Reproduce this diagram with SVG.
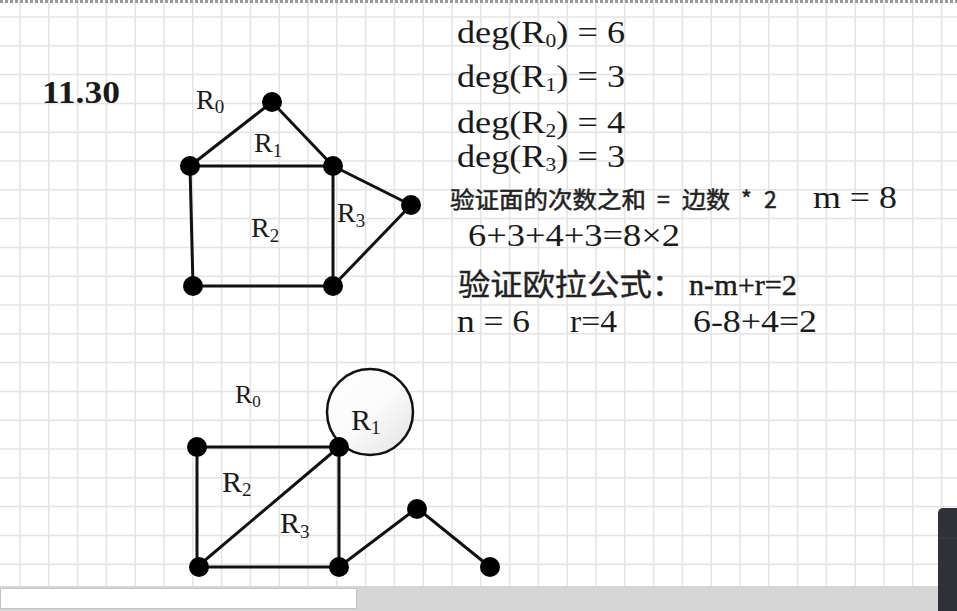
<svg xmlns="http://www.w3.org/2000/svg" width="957" height="611" viewBox="0 0 957 611">
<style>
.grid line{stroke:#e4e4e4;stroke-width:1.5}
.edge{stroke:#111;stroke-width:3;fill:none;stroke-linecap:round}
.node{fill:#000}
.t{font-family:"Liberation Serif","Noto Sans CJK SC",serif;fill:#1a1a1a}
.c{font-family:"Noto Sans CJK SC","Liberation Sans",sans-serif;fill:#222}
</style>
<defs>
<linearGradient id="lg" x1="0" y1="0" x2="1" y2="1">
<stop offset="0" stop-color="#ffffff"/>
<stop offset="0.5" stop-color="#fbfbfb"/>
<stop offset="1" stop-color="#e2e2e2"/>
</linearGradient>
</defs>
<rect width="957" height="611" fill="#ffffff"/>
<g class="grid">
<line x1="20" y1="0" x2="20" y2="611"/><line x1="48.8" y1="0" x2="48.8" y2="611"/><line x1="77.6" y1="0" x2="77.6" y2="611"/><line x1="106.4" y1="0" x2="106.4" y2="611"/><line x1="135.2" y1="0" x2="135.2" y2="611"/><line x1="164" y1="0" x2="164" y2="611"/><line x1="192.8" y1="0" x2="192.8" y2="611"/><line x1="221.6" y1="0" x2="221.6" y2="611"/><line x1="250.4" y1="0" x2="250.4" y2="611"/><line x1="279.2" y1="0" x2="279.2" y2="611"/><line x1="308" y1="0" x2="308" y2="611"/><line x1="336.8" y1="0" x2="336.8" y2="611"/><line x1="365.6" y1="0" x2="365.6" y2="611"/><line x1="394.4" y1="0" x2="394.4" y2="611"/><line x1="423.2" y1="0" x2="423.2" y2="611"/><line x1="452" y1="0" x2="452" y2="611"/><line x1="480.8" y1="0" x2="480.8" y2="611"/><line x1="509.6" y1="0" x2="509.6" y2="611"/><line x1="538.4" y1="0" x2="538.4" y2="611"/><line x1="567.2" y1="0" x2="567.2" y2="611"/><line x1="596" y1="0" x2="596" y2="611"/><line x1="624.8" y1="0" x2="624.8" y2="611"/><line x1="653.6" y1="0" x2="653.6" y2="611"/><line x1="682.4" y1="0" x2="682.4" y2="611"/><line x1="711.2" y1="0" x2="711.2" y2="611"/><line x1="740" y1="0" x2="740" y2="611"/><line x1="768.8" y1="0" x2="768.8" y2="611"/><line x1="797.6" y1="0" x2="797.6" y2="611"/><line x1="826.4" y1="0" x2="826.4" y2="611"/><line x1="855.2" y1="0" x2="855.2" y2="611"/><line x1="884" y1="0" x2="884" y2="611"/><line x1="912.8" y1="0" x2="912.8" y2="611"/><line x1="941.6" y1="0" x2="941.6" y2="611"/>
<line x1="0" y1="17" x2="957" y2="17"/><line x1="0" y1="45.8" x2="957" y2="45.8"/><line x1="0" y1="74.6" x2="957" y2="74.6"/><line x1="0" y1="103.4" x2="957" y2="103.4"/><line x1="0" y1="132.2" x2="957" y2="132.2"/><line x1="0" y1="161" x2="957" y2="161"/><line x1="0" y1="189.8" x2="957" y2="189.8"/><line x1="0" y1="218.6" x2="957" y2="218.6"/><line x1="0" y1="247.4" x2="957" y2="247.4"/><line x1="0" y1="276.2" x2="957" y2="276.2"/><line x1="0" y1="305" x2="957" y2="305"/><line x1="0" y1="333.8" x2="957" y2="333.8"/><line x1="0" y1="362.6" x2="957" y2="362.6"/><line x1="0" y1="391.4" x2="957" y2="391.4"/><line x1="0" y1="420.2" x2="957" y2="420.2"/><line x1="0" y1="449" x2="957" y2="449"/><line x1="0" y1="477.8" x2="957" y2="477.8"/><line x1="0" y1="506.6" x2="957" y2="506.6"/><line x1="0" y1="535.4" x2="957" y2="535.4"/><line x1="0" y1="564.2" x2="957" y2="564.2"/>
</g>
<line x1="0" y1="1.5" x2="957" y2="1.5" stroke="#9a9a9a" stroke-width="3" stroke-dasharray="3 2"/>

<text class="t" x="42" y="103" font-size="32" font-weight="bold" textLength="78" lengthAdjust="spacingAndGlyphs">11.30</text>

<!-- Graph 1 -->
<g id="graph1-connectors">
<line class="edge" x1="272" y1="102" x2="190" y2="166"/>
<line class="edge" x1="272" y1="102" x2="333" y2="166"/>
<line class="edge" x1="190" y1="166" x2="333" y2="166"/>
<line class="edge" x1="190" y1="166" x2="193" y2="286"/>
<line class="edge" x1="193" y1="286" x2="333" y2="286"/>
<line class="edge" x1="333" y1="166" x2="333" y2="286"/>
<line class="edge" x1="333" y1="166" x2="411" y2="205"/>
<line class="edge" x1="411" y1="205" x2="333" y2="286"/>
</g>
<g id="g1-a"><circle class="node" cx="272" cy="102" r="10"/></g>
<g id="g1-b"><circle class="node" cx="190" cy="166" r="10"/></g>
<g id="g1-c"><circle class="node" cx="333" cy="166" r="10"/></g>
<g id="g1-d"><circle class="node" cx="411" cy="205" r="10"/></g>
<g id="g1-e"><circle class="node" cx="193" cy="286" r="10"/></g>
<g id="g1-f"><circle class="node" cx="333" cy="286" r="10"/></g>
<g id="g1-labels">
<text class="t" x="196" y="109" font-size="28">R<tspan font-size="19" dy="4">0</tspan></text>
<text class="t" x="254" y="152" font-size="28">R<tspan font-size="19" dy="5">1</tspan></text>
<text class="t" x="251" y="237" font-size="28">R<tspan font-size="19" dy="5">2</tspan></text>
<text class="t" x="337" y="222" font-size="28">R<tspan font-size="19" dy="5">3</tspan></text>
</g>

<!-- Right text -->
<g id="equations">
<text class="t" x="457" y="43" font-size="32" textLength="168" lengthAdjust="spacingAndGlyphs">deg(R<tspan font-size="19" dy="4">0</tspan><tspan dy="-4">) = 6</tspan></text>
<text class="t" x="457" y="87" font-size="32" textLength="168" lengthAdjust="spacingAndGlyphs">deg(R<tspan font-size="19" dy="4">1</tspan><tspan dy="-4">) = 3</tspan></text>
<text class="t" x="457" y="133" font-size="32" textLength="168" lengthAdjust="spacingAndGlyphs">deg(R<tspan font-size="19" dy="4">2</tspan><tspan dy="-4">) = 4</tspan></text>
<text class="t" x="457" y="167" font-size="32" textLength="168" lengthAdjust="spacingAndGlyphs">deg(R<tspan font-size="19" dy="4">3</tspan><tspan dy="-4">) = 3</tspan></text>
<g stroke="#222" stroke-width="0.5">
<text class="c" x="450" y="208" font-size="23" textLength="196" lengthAdjust="spacingAndGlyphs">验证面的次数之和</text>
<text class="c" x="657" y="208" font-size="23">=</text>
<text class="c" x="682" y="208" font-size="23" textLength="48" lengthAdjust="spacingAndGlyphs">边数</text>
<text class="c" x="741" y="208" font-size="23">*</text>
<text class="c" x="764" y="208" font-size="23">2</text>
</g>
<text class="t" x="813" y="208" font-size="32" textLength="84" lengthAdjust="spacingAndGlyphs">m = 8</text>
<text class="t" x="468" y="246" font-size="32" textLength="212" lengthAdjust="spacingAndGlyphs">6+3+4+3=8×2</text>
<text class="c" x="458" y="295" font-size="30" textLength="226" lengthAdjust="spacingAndGlyphs" stroke="#222" stroke-width="0.4">验证欧拉公式：</text>
<text class="t" x="689" y="295" font-size="29" textLength="108" lengthAdjust="spacingAndGlyphs" stroke="#1a1a1a" stroke-width="0.4">n-m+r=2</text>
<text class="t" x="457" y="332" font-size="32" textLength="73" lengthAdjust="spacingAndGlyphs">n = 6</text>
<text class="t" x="570" y="332" font-size="32" textLength="47" lengthAdjust="spacingAndGlyphs">r=4</text>
<text class="t" x="693" y="332" font-size="32" textLength="124" lengthAdjust="spacingAndGlyphs">6-8+4=2</text>
</g>

<!-- Graph 2 -->
<g id="g2-loop"><circle cx="370" cy="412" r="43" fill="url(#lg)" stroke="#111" stroke-width="2.5"/></g>
<g id="graph2-connectors">
<line class="edge" x1="197" y1="447" x2="339" y2="447"/>
<line class="edge" x1="197" y1="447" x2="197" y2="567"/>
<line class="edge" x1="197" y1="567" x2="339" y2="567"/>
<line class="edge" x1="339" y1="447" x2="339" y2="567"/>
<line class="edge" x1="197" y1="567" x2="339" y2="447"/>
<line class="edge" x1="339" y1="567" x2="417" y2="508"/>
<line class="edge" x1="417" y1="508" x2="490" y2="567"/>
</g>
<g id="g2-p"><circle class="node" cx="197" cy="447" r="10"/></g>
<g id="g2-q"><circle class="node" cx="339" cy="447" r="10"/></g>
<g id="g2-s"><circle class="node" cx="199" cy="567" r="10"/></g>
<g id="g2-t"><circle class="node" cx="339" cy="567" r="10"/></g>
<g id="g2-u"><circle class="node" cx="417" cy="509" r="10"/></g>
<g id="g2-v"><circle class="node" cx="490" cy="567" r="10"/></g>
<g id="g2-labels">
<text class="t" x="235" y="403" font-size="26">R<tspan font-size="17" dy="4">0</tspan></text>
<text class="t" x="351" y="430" font-size="30">R<tspan font-size="19" dy="4">1</tspan></text>
<text class="t" x="222" y="492" font-size="30">R<tspan font-size="19" dy="4">2</tspan></text>
<text class="t" x="280" y="533" font-size="30">R<tspan font-size="19" dy="5">3</tspan></text>
</g>

<!-- bottom UI -->
<rect x="0" y="586" width="957" height="25" fill="#d6d6d6"/>
<rect x="0.5" y="588.5" width="356" height="20" fill="#ffffff" stroke="#c4c4c4" stroke-width="1"/>
<rect x="938" y="508" width="25" height="110" rx="5" fill="#2e3237"/>
<line x1="939" y1="538" x2="957" y2="538" stroke="#3c4046" stroke-width="1"/>
</svg>
